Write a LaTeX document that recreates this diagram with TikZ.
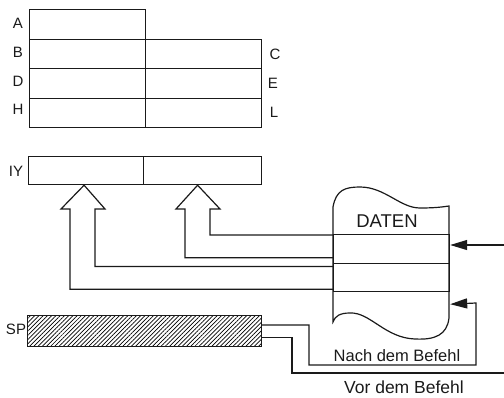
\documentclass[tikz,border=0pt]{standalone}
\usepackage{fontspec}
\setmainfont{Liberation Sans}
\usetikzlibrary{arrows.meta, positioning, patterns.meta}
\definecolor{inkblack}{HTML}{1A1A1A}

\begin{document}
\begin{tikzpicture}[x=1pt, y=-1pt, line width=1.2pt, draw=inkblack,
  reg/.style={rectangle, draw=inkblack, minimum width=116pt, minimum height=29.5pt, inner sep=0pt, anchor=north west},
  memrow/.style={rectangle, draw=inkblack, minimum width=116pt, minimum height=28.5pt, inner sep=0pt, anchor=north west},
  lbl/.style={font=\fontsize{15}{15}\selectfont, text=inkblack, inner sep=0pt},
  note/.style={text=inkblack, inner sep=0pt},
  tip/.style={-{Triangle[length=17pt, width=10pt]}},
]
\useasboundingbox (0,0) rectangle (504,397);
% register block
\node[reg] (regA) at (29,9) {};
\node[reg] (regB) at (29,38.5) {};
\node[reg] (regC) at (145,38.5) {};
\node[reg] (regD) at (29,68) {};
\node[reg] (regE) at (145,68) {};
\node[reg] (regH) at (29,97.5) {};
\node[reg] (regL) at (145,97.5) {};
\node[lbl] (labA) at (18,23) {A};
\node[lbl] (labB) at (18,52) {B};
\node[lbl] (labD) at (18,81) {D};
\node[lbl] (labH) at (18,109) {H};
\node[lbl] (labC) at (275,54) {C};
\node[lbl] (labE) at (273,83) {E};
\node[lbl] (labL) at (274,112) {L};
% index register
\node[reg, minimum width=115pt, minimum height=28pt] (iyL) at (28,156) {};
\node[reg, minimum width=118pt, minimum height=28pt] (iyR) at (143,156) {};
\node[lbl] (labIY) at (16,171) {IY};
% stack pointer
\node[reg, minimum width=234pt, minimum height=31pt, pattern={Lines[angle=45, distance=3pt, line width=0.7pt]}] (sp) at (27,315) {};
\node[lbl] (labSP) at (16,329.5) {SP};
% memory
\draw (333,207) .. controls (336,190) and (345,187) .. (360,187)
  .. controls (385,187) and (400,208) .. (420,208)
  .. controls (435,208) and (442,207) .. (449,206)
  -- (449,318) .. controls (447,335) and (435,340) .. (415,339)
  .. controls (385,338) and (370,312) .. (350,313)
  .. controls (340,313) and (335,316) .. (333,322) -- cycle;
\node[note, font=\fontsize{18.5}{18.5}\selectfont] (daten) at (387,221.5) {DATEN};
\node[memrow] (row1) at (333,234) {};
\node[memrow] (row2) at (333,262.5) {};
% data paths into IY
\draw ([yshift=3pt]row2.south west) -| (70,209) -- (61,209) -- ([xshift=-2pt]iyL.south)
  -- (105,209) -- (95,209) |- ([yshift=-4pt]row2.north west);
\draw ([yshift=6pt]row1.south west) -| (185,209) -- (176,209) -- ([xshift=-5pt]iyR.south)
  -- (220,209) -- (210,209) |- ([yshift=-1pt]row1.north west);
% pointer arrows
\coordinate (inD) at (504,245);
\coordinate (outV) at (504,373);
\draw[tip] (inD) -- ([yshift=-11pt]row1.north east);
\draw[tip] ([yshift=-10pt]sp.north east) -| (309,365) -| (476,303) -- ([yshift=-12pt]row2.south east);
\draw ([yshift=9pt]sp.south east) -| (292,373) -- (outV);
\node[note, font=\fontsize{16.5}{16.5}\selectfont] (nach) at (397,356) {Nach dem Befehl};
\node[note, font=\fontsize{17.5}{17.5}\selectfont] (vor) at (404,387) {Vor dem Befehl};
\end{tikzpicture}
\end{document}
